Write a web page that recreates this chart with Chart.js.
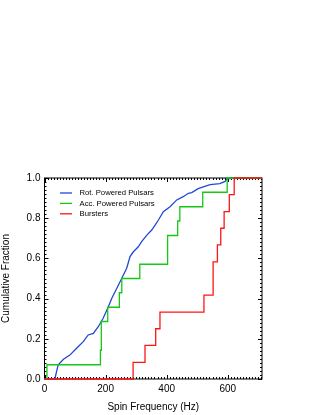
<!DOCTYPE html>
<html>
<head>
<meta charset="utf-8">
<script src="https://cdn.jsdelivr.net/npm/chart.js@4/dist/chart.umd.min.js"></script>
<style>
  html, body { margin: 0; padding: 0; background: #fff; }
  canvas { display: block; }
</style>
</head>
<body>
<canvas id="cdfChart" width="321" height="415"></canvas>
<script>
// --- datos ---
const rotFreq = [0, 34, 40, 45, 62, 83, 105, 127, 143, 160, 176, 192, 209, 220, 234, 253, 269, 280, 291, 307, 318, 335, 351, 362, 373, 389, 411, 433, 454, 471, 482, 503, 542, 574, 591, 598, 620, 712];
const rotFrac = [0, 0, 0.04, 0.07, 0.098, 0.119, 0.153, 0.186, 0.219, 0.227, 0.26, 0.302, 0.36, 0.401, 0.443, 0.501, 0.551, 0.609, 0.633, 0.658, 0.683, 0.716, 0.741, 0.766, 0.791, 0.832, 0.857, 0.891, 0.907, 0.924, 0.927, 0.947, 0.967, 0.972, 0.983, 0.996, 1.0, 1.0];

const accFreq = [0, 8, 183, 186, 207, 245, 253, 312, 403, 436, 443, 518, 598, 712];
const accFrac = [0, 0.071, 0.143, 0.286, 0.357, 0.429, 0.5, 0.571, 0.714, 0.786, 0.857, 0.929, 1.0, 1.0];

const burstFreq = [0, 290, 329, 364, 378, 522, 552, 566, 577, 588, 605, 621, 712];
const burstFrac = [0, 0.083, 0.167, 0.25, 0.333, 0.417, 0.583, 0.667, 0.75, 0.833, 0.917, 1.0, 1.0];

const seriesLabels = ['Rot. Powered Pulsars', 'Acc. Powered Pulsars', 'Bursters'];
const seriesColors = ['#1f48d8', '#14c814', '#ff1414'];

const xTicks = [0, 200, 400, 600];
const yTicks = [0, 0.2, 0.4, 0.6, 0.8, 1.0];

function toPoints(xs, ys) {
    return xs.map((x, i) => ({ x: x, y: ys[i] }));
}

const FONT = '"Liberation Sans", Arial, Helvetica, sans-serif';

// marco y marcas hacia dentro, estilo IDL
const framePlugin = {
    id: 'idlFrame',
    beforeDatasetsDraw(chart) {
        const { ctx, chartArea: a, scales: { x, y } } = chart;
        ctx.save();
        ctx.strokeStyle = '#000';
        ctx.lineWidth = 1;
        ctx.strokeRect(a.left, a.top, a.right - a.left, a.bottom - a.top);
        ctx.beginPath();
        for (let v = 0; v <= x.max + 0.01; v += 10) {
            const px = Math.round(x.getPixelForValue(v)) + 0.5;
            const len = (v % 200 === 0) ? 4 : 2;
            ctx.moveTo(px, a.bottom); ctx.lineTo(px, a.bottom - len);
            ctx.moveTo(px, a.top); ctx.lineTo(px, a.top + len);
        }
        for (let i = 0; i <= 50; i++) {
            const py = Math.round(y.getPixelForValue(i * 0.02)) + 0.5;
            const len = (i % 10 === 0) ? 4 : 2;
            ctx.moveTo(a.left, py); ctx.lineTo(a.left + len, py);
            ctx.moveTo(a.right, py); ctx.lineTo(a.right - len, py);
        }
        ctx.stroke();
        ctx.restore();
    },
    afterDraw(chart) {
        // leyenda dentro del área del gráfico
        const { ctx } = chart;
        ctx.save();
        ctx.font = '7.7px ' + FONT;
        ctx.textBaseline = 'middle';
        ctx.fillStyle = '#000';
        seriesLabels.forEach((label, i) => {
            const yy = 193 + i * 10.4;
            ctx.strokeStyle = seriesColors[i];
            ctx.lineWidth = 1.3;
            ctx.beginPath();
            ctx.moveTo(60, yy); ctx.lineTo(72, yy);
            ctx.stroke();
            ctx.fillText(label, 79.5, yy);
        });
        ctx.restore();
    }
};

const ctx = document.getElementById('cdfChart');
new Chart(ctx, {
    type: 'line',
    data: {
        datasets: [
            {
                label: seriesLabels[0],
                data: toPoints(rotFreq, rotFrac),
                borderColor: seriesColors[0],
                borderWidth: 1.3,
                pointRadius: 0,
                tension: 0,
                clip: 3,
                order: 3
            },
            {
                label: seriesLabels[1],
                data: toPoints(accFreq, accFrac),
                borderColor: seriesColors[1],
                borderWidth: 1.3,
                pointRadius: 0,
                stepped: 'before',
                clip: 3,
                order: 2
            },
            {
                label: seriesLabels[2],
                data: toPoints(burstFreq, burstFrac),
                borderColor: seriesColors[2],
                borderWidth: 1.3,
                pointRadius: 0,
                stepped: 'before',
                clip: 3,
                order: 1
            }
        ]
    },
    options: {
        responsive: false,
        animation: false,
        devicePixelRatio: 1,
        layout: { padding: { left: 0, right: 59, top: 178, bottom: 0 } },
        plugins: {
            legend: { display: false },
            tooltip: { enabled: false }
        },
        scales: {
            x: {
                type: 'linear',
                min: 0,
                max: 712,
                afterFit: function(scale) { scale.height = 36; },
                afterBuildTicks: function(scale) { scale.ticks = xTicks.map(v => ({ value: v })); },
                grid: { display: false, drawTicks: false },
                border: { display: false },
                ticks: {
                    padding: 4,
                    color: '#000',
                    font: { family: FONT, size: 10 },
                    maxRotation: 0,
                    callback: function(value) { return value; }
                },
                title: {
                    display: true,
                    text: 'Spin Frequency (Hz)',
                    color: '#000',
                    font: { family: FONT, size: 10 },
                    padding: { top: 0, bottom: 2 }
                }
            },
            y: {
                min: 0,
                max: 1,
                afterFit: function(scale) { scale.width = 44.5; },
                afterBuildTicks: function(scale) { scale.ticks = yTicks.map(v => ({ value: v })); },
                grid: { display: false, drawTicks: false },
                border: { display: false },
                ticks: {
                    padding: 4,
                    color: '#000',
                    font: { family: FONT, size: 10 },
                    callback: function(value) { return value.toFixed(1); }
                },
                title: {
                    display: true,
                    text: 'Cumulative Fraction',
                    color: '#000',
                    font: { family: FONT, size: 10 },
                    padding: { top: 0, bottom: 0 }
                }
            }
        }
    },
    plugins: [framePlugin]
});
</script>
</body>
</html>
